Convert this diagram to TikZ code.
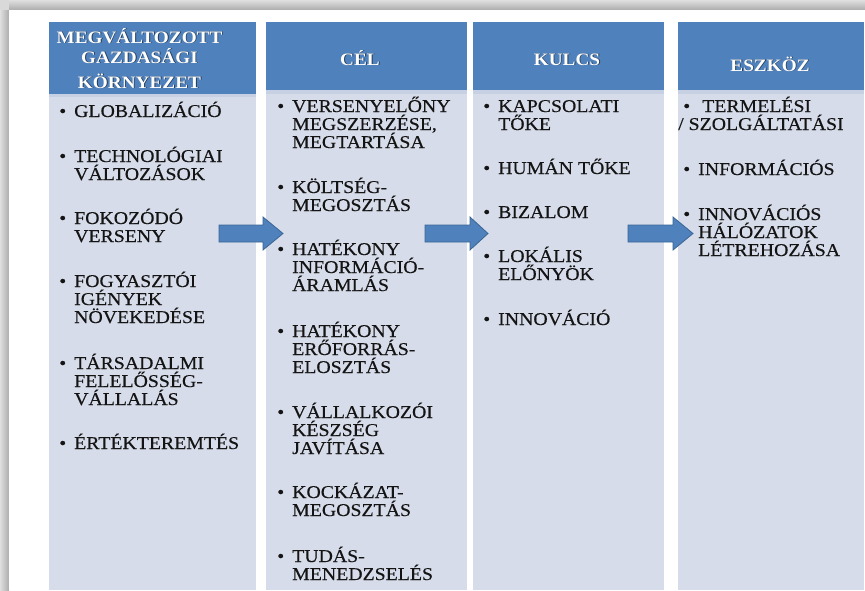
\documentclass[tikz,border=0pt]{standalone}
\usepackage{fontspec}
\setmainfont{Liberation Serif}[FakeStretch=1.1]
\newfontfamily\listfont{Liberation Serif}[FakeStretch=1.1, FakeBold=0.35]

\definecolor{hdrblue}{HTML}{4F81BD}
\definecolor{bodyblue}{HTML}{D6DCE9}
\definecolor{bandblue}{HTML}{C8D1E3}
\definecolor{arrowedge}{HTML}{3A6595}
\definecolor{itemtext}{HTML}{141414}

\tikzset{
  colhead/.style={fill=hdrblue},
  colband/.style={fill=bandblue},
  colbody/.style={fill=bodyblue},
  htext/.style={text=white, font=\fontsize{17.5}{20}\selectfont\bfseries, inner sep=0pt, anchor=base},
  hshade/.style={htext, text=black, opacity=0.55},
  listitem/.style={text=itemtext, font=\listfont\fontsize{18}{18}\selectfont, inner sep=0pt, anchor=base west},
  blockarrow/.style={fill=hdrblue, draw=arrowedge, line width=0.8pt, line join=miter},
}

% header caption with a soft dark shadow behind it
\newcommand\hdrcap[4]{%
  \node[hshade] (#1s) at (#2+0.9,#3+0.9) {#4};
  \node[htext] (#1) at (#2,#3) {#4};}

% bulleted list entry; the position is the baseline of its first line
\newcommand\bitem[4]{%
  \node[listitem] (#1) at (#2,#3)
    {\parbox[t]{190pt}{\lineskiplimit=-100pt\baselineskip=18pt\leavevmode\llap{\textbullet\hskip 8pt}#4}};}

% wide block arrow between two columns
\newcommand\blockarr[3]{%
  \draw[blockarrow] (#1,225) -- (#2,225) -- (#2,217) -- (#3,233.5)
    -- (#2,250) -- (#2,242) -- (#1,242) -- cycle;}

\begin{document}
\begin{tikzpicture}[x=1pt,y=-1pt]
\useasboundingbox (0,0) rectangle (865,590);

% drop shadow of the frame
\fill[gray!30] (0,0) rectangle (9,10);
\shade[top color=gray!25, bottom color=gray!65] (9,0) rectangle (865,10);
\shade[left color=gray!25, right color=gray!65] (0,10) rectangle (9,590);
\fill[white] (9,10) rectangle (865,590);

% columns
\fill[colhead] (49,22) rectangle (256,94);
\fill[colband] (49,94) rectangle (256,97);
\fill[colbody] (49,97) rectangle (256,590);

\fill[colhead] (266,22) rectangle (467,90);
\fill[colband] (266,90) rectangle (467,94);
\fill[colbody] (266,94) rectangle (467,590);

\fill[colhead] (473,22) rectangle (664,90);
\fill[colband] (473,90) rectangle (664,94);
\fill[colbody] (473,94) rectangle (664,590);

\fill[colhead] (678,22) rectangle (864,90);
\fill[colband] (678,90) rectangle (864,94);
\fill[colbody] (678,94) rectangle (864,590);

% column captions
\hdrcap{h1}{139.5}{43}{\parbox[t]{200pt}{\centering MEGVÁLTOZOTT\\GAZDASÁGI\\[5pt]KÖRNYEZET}}
\hdrcap{h2}{360}{65}{CÉL}
\hdrcap{h3}{567}{65}{KULCS}
\hdrcap{h4}{770}{71}{ESZKÖZ}

% first column
\bitem{a1}{74}{117}{GLOBALIZÁCIÓ}
\bitem{a2}{74}{162}{TECHNOLÓGIAI\\VÁLTOZÁSOK}
\bitem{a3}{74}{224}{FOKOZÓDÓ\\VERSENY}
\bitem{a4}{74}{287}{FOGYASZTÓI\\IGÉNYEK\\NÖVEKEDÉSE}
\bitem{a5}{74}{369}{TÁRSADALMI\\FELELŐSSÉG-\\VÁLLALÁS}
\bitem{a6}{74}{449}{ÉRTÉKTEREMTÉS}

% second column
\bitem{b1}{292}{112}{VERSENYELŐNY\\MEGSZERZÉSE,\\MEGTARTÁSA}
\bitem{b2}{292}{193}{KÖLTSÉG-\\MEGOSZTÁS}
\bitem{b3}{292}{255}{HATÉKONY\\INFORMÁCIÓ-\\ÁRAMLÁS}
\bitem{b4}{292}{337}{HATÉKONY\\ERŐFORRÁS-\\ELOSZTÁS}
\bitem{b5}{292}{418}{VÁLLALKOZÓI\\KÉSZSÉG\\JAVÍTÁSA}
\bitem{b6}{292}{498}{KOCKÁZAT-\\MEGOSZTÁS}
\bitem{b7}{292}{562}{TUDÁS-\\MENEDZSELÉS}

% third column
\bitem{c1}{498}{112}{KAPCSOLATI\\TŐKE}
\bitem{c2}{498}{174}{HUMÁN TŐKE}
\bitem{c3}{498}{218}{BIZALOM}
\bitem{c4}{498}{262}{LOKÁLIS\\ELŐNYÖK}
\bitem{c5}{498}{325}{INNOVÁCIÓ}

% fourth column
\bitem{d1}{698}{112}{\hspace*{4pt}TERMELÉSI\\\hspace*{-20pt}/ SZOLGÁLTATÁSI}
\bitem{d2}{698}{175}{INFORMÁCIÓS}
\bitem{d3}{698}{220}{INNOVÁCIÓS\\HÁLÓZATOK\\LÉTREHOZÁSA}

% arrows between the columns
\blockarr{219}{263}{283}
\blockarr{425}{470}{488}
\blockarr{628}{673}{693}
\end{tikzpicture}
\end{document}
